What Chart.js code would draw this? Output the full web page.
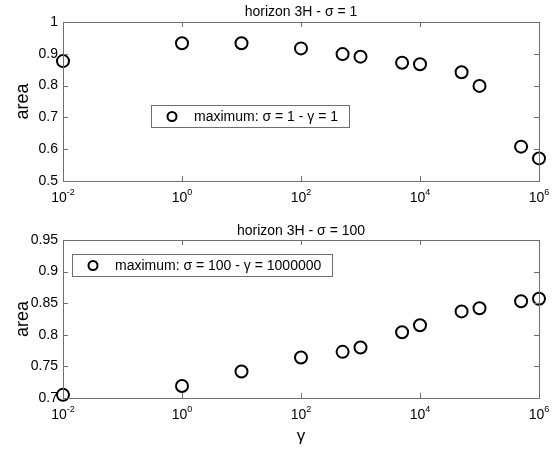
<!DOCTYPE html>
<html>
<head>
<meta charset="utf-8">
<script src="https://cdn.jsdelivr.net/npm/chart.js@4.4.1/dist/chart.umd.min.js"></script>
<style>
  body { margin: 0; background: #fff; }
  .wrap { position: absolute; left: 0; width: 558px; }
  #top { top: 0; height: 205px; }
  #bottom { top: 205px; height: 247px; }
</style>
</head>
<body>
<div class="wrap" id="top"><canvas id="chartTop" width="558" height="205"></canvas></div>
<div class="wrap" id="bottom"><canvas id="chartBottom" width="558" height="247"></canvas></div>
<script>
// valores de gamma (eje x, escala log)
const gammaValues = [0.01, 1, 10, 100, 500, 1000, 5000, 10000, 50000, 100000, 500000, 1000000];
// area para sigma = 1
const areaSigma1 = [0.877, 0.933, 0.933, 0.917, 0.899, 0.891, 0.872, 0.867, 0.842, 0.799, 0.608, 0.571];
// area para sigma = 100
const areaSigma100 = [0.705, 0.719, 0.742, 0.764, 0.773, 0.780, 0.804, 0.815, 0.837, 0.842, 0.853, 0.857];

const xTickExponents = [-2, 0, 2, 4, 6];
const titleTop = 'horizon 3H - σ = 1';
const titleBottom = 'horizon 3H - σ = 100';
const legendTop = 'maximum: σ = 1 - γ = 1';
const legendBottom = 'maximum: σ = 100 - γ = 1000000';

const FONT = "'Liberation Sans', Arial, sans-serif";
const AXIS_COLOR = '#6e6e6e';

// caja estilo matlab con ticks hacia dentro, etiquetas 10^n y leyenda
const matlabPlugin = {
    id: 'matlab',
    afterDatasetsDraw(chart, args, opts) {
        const ctx = chart.ctx;
        const {left, right, top, bottom} = chart.chartArea;
        const xs = chart.scales.x;
        const ys = chart.scales.y;
        ctx.save();
        ctx.strokeStyle = AXIS_COLOR;
        ctx.lineWidth = 1;
        ctx.strokeRect(Math.round(left) + 0.5, Math.round(top) + 0.5, Math.round(right - left), Math.round(bottom - top));
        ctx.beginPath();
        xTickExponents.forEach(e => {
            const px = Math.round(xs.getPixelForValue(Math.pow(10, e))) + 0.5;
            ctx.moveTo(px, bottom); ctx.lineTo(px, bottom - 5);
            ctx.moveTo(px, top); ctx.lineTo(px, top + 5);
        });
        ys.ticks.forEach(t => {
            const py = Math.round(ys.getPixelForValue(t.value)) + 0.5;
            ctx.moveTo(left, py); ctx.lineTo(left + 5, py);
            ctx.moveTo(right, py); ctx.lineTo(right - 5, py);
        });
        ctx.stroke();

        // etiquetas del eje x
        ctx.fillStyle = '#000';
        ctx.textBaseline = 'alphabetic';
        ctx.textAlign = 'left';
        xTickExponents.forEach(e => {
            const px = xs.getPixelForValue(Math.pow(10, e));
            ctx.font = '14px ' + FONT;
            const w1 = ctx.measureText('10').width;
            ctx.font = '9px ' + FONT;
            const w2 = ctx.measureText(String(e)).width;
            const x0 = px - (w1 + w2) / 2;
            ctx.font = '14px ' + FONT;
            ctx.fillText('10', x0, bottom + 21);
            ctx.font = '9px ' + FONT;
            ctx.fillText(String(e), x0 + w1, bottom + 14);
        });

        // leyenda
        ctx.font = '14px ' + FONT;
        const tw = ctx.measureText(opts.label).width;
        const bx = left + opts.dx, by = top + opts.dy;
        const bw = tw + 54, bh = 22;
        ctx.fillStyle = '#fff';
        ctx.fillRect(bx, by, bw, bh);
        ctx.strokeStyle = AXIS_COLOR;
        ctx.strokeRect(Math.round(bx) + 0.5, Math.round(by) + 0.5, Math.round(bw), bh);
        ctx.strokeStyle = '#000';
        ctx.lineWidth = 2;
        ctx.beginPath();
        ctx.arc(bx + 21, by + bh / 2 + 0.5, 4.5, 0, Math.PI * 2);
        ctx.stroke();
        ctx.fillStyle = '#000';
        ctx.textBaseline = 'middle';
        ctx.fillText(opts.label, bx + 43, by + bh / 2 + 1);
        ctx.restore();
    }
};

const makeChart = (canvasId, values, title, legendLabel, yMin, yMax, yStep, cfg) => {
    const ctx = document.getElementById(canvasId).getContext('2d');
    return new Chart(ctx, {
        type: 'scatter',
        data: {
            datasets: [{
                label: legendLabel,
                data: gammaValues.map((g, i) => ({x: g, y: values[i]})),
                borderColor: '#000',
                backgroundColor: 'rgba(0,0,0,0)',
                borderWidth: 2,
                pointRadius: 6,
                pointHoverRadius: 6,
                clip: false
            }]
        },
        options: {
            responsive: false,
            animation: false,
            devicePixelRatio: 1,
            layout: { padding: { left: 0, right: 19, top: 0, bottom: 0 } },
            plugins: {
                legend: { display: false },
                tooltip: { enabled: false },
                title: {
                    display: true,
                    text: title,
                    fullSize: false,
                    color: '#000',
                    font: { family: FONT, size: 14, weight: 'normal', lineHeight: 1.0 },
                    padding: cfg.titlePadding
                },
                matlab: { label: legendLabel, dx: cfg.legendDx, dy: cfg.legendDy }
            },
            scales: {
                x: {
                    type: 'logarithmic',
                    min: 0.01,
                    max: 1000000,
                    grid: { display: false, drawTicks: false },
                    border: { display: false },
                    ticks: { display: false },
                    title: cfg.xTitle ? {
                        display: true,
                        text: 'γ',
                        color: '#000',
                        font: { family: FONT, size: 17 },
                        padding: { top: 0, bottom: 5 }
                    } : { display: false },
                    afterFit: scale => { scale.height = cfg.xHeight; }
                },
                y: {
                    min: yMin,
                    max: yMax,
                    grid: { display: false, drawTicks: false },
                    border: { display: false },
                    ticks: {
                        stepSize: yStep,
                        color: '#000',
                        padding: 5,
                        font: { family: FONT, size: 14 },
                        callback: v => String(Number(v.toFixed(2)))
                    },
                    title: {
                        display: true,
                        text: 'area',
                        color: '#000',
                        font: { family: FONT, size: 18 },
                        padding: { top: 12, bottom: 0 }
                    },
                    afterFit: scale => { scale.width = 63; }
                }
            }
        },
        plugins: [matlabPlugin]
    });
};

makeChart('chartTop', areaSigma1, titleTop, legendTop, 0.5, 1, 0.1, {
    titlePadding: { top: 5, bottom: 3 },
    xHeight: 24,
    legendDx: 88,
    legendDy: 83,
    xTitle: false
});

makeChart('chartBottom', areaSigma100, titleBottom, legendBottom, 0.7, 0.95, 0.05, {
    titlePadding: { top: 19, bottom: 2 },
    xHeight: 54,
    legendDx: 9,
    legendDy: 14,
    xTitle: true
});
</script>
</body>
</html>
